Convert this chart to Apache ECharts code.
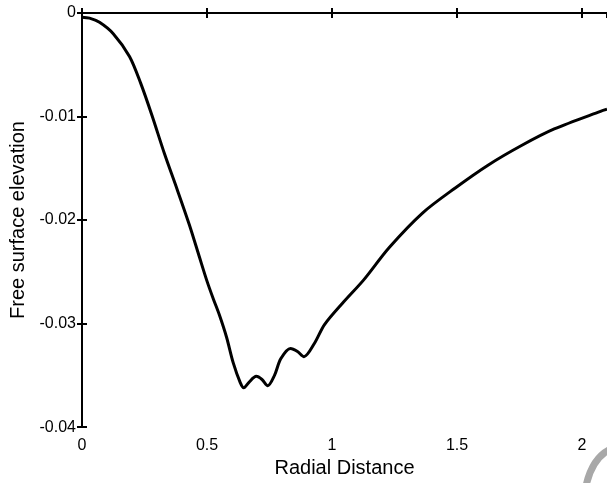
<!DOCTYPE html>
<html>
<head>
<meta charset="utf-8">
<script src="https://cdn.jsdelivr.net/npm/echarts@6/dist/echarts.min.js"></script>
<style>
html,body{margin:0;padding:0;background:#fff;}
#chart{width:607px;height:483px;}
</style>
</head>
<body>
<div id="chart"></div>
<script>
// Radial distance (x) and free surface elevation (y)
const radialDistance = [0, 0.03, 0.07, 0.125, 0.19, 0.235, 0.28, 0.33, 0.38, 0.43, 0.47, 0.50, 0.525, 0.55, 0.578, 0.605, 0.633, 0.647, 0.667, 0.697, 0.72, 0.743, 0.77, 0.795, 0.834, 0.862, 0.888, 0.93, 0.97, 1.047, 1.126, 1.229, 1.363, 1.493, 1.624, 1.758, 1.889, 2.074, 2.1];
const elevation = [-0.0004, -0.0005, -0.0009, -0.0020, -0.0042, -0.0068, -0.0099, -0.0136, -0.0170, -0.0205, -0.0236, -0.0259, -0.0276, -0.0292, -0.0313, -0.0338, -0.0357, -0.0362, -0.0357, -0.0351, -0.0354, -0.0360, -0.0350, -0.0334, -0.0324, -0.0327, -0.0332, -0.0319, -0.0301, -0.0279, -0.0258, -0.02265, -0.0193, -0.0169, -0.0147, -0.0128, -0.0112, -0.0095, -0.0093];
const xTicks = [0, 0.5, 1, 1.5, 2];
const yTicks = [-0.04, -0.03, -0.02, -0.01, 0];

const data = radialDistance.map((x, i) => [x, elevation[i]]);
const font = 'Liberation Sans, Arial, Helvetica, sans-serif';
const axisLine = {show: true, lineStyle: {color: '#000', width: 2}};
const tick = {show: true, inside: true, length: 5, lineStyle: {color: '#000', width: 2}};

const chart = echarts.init(document.getElementById('chart'), null, {renderer: 'canvas'});
chart.setOption({
  animation: false,
  backgroundColor: '#fff',
  grid: {left: 82, top: 13, right: -7, bottom: 51, containLabel: false},
  xAxis: [{
    type: 'value', min: xTicks[0], max: 2.1, interval: 0.5, position: 'bottom',
    axisLine: axisLine, axisTick: tick, splitLine: {show: false},
    axisLabel: {color: '#000', fontFamily: font, fontSize: 16, margin: 10, showMaxLabel: false,
      formatter: v => xTicks.includes(v) ? String(v) : ''},
    name: 'Radial Distance', nameLocation: 'middle', nameGap: 30,
    nameTextStyle: {color: '#000', fontFamily: font, fontSize: 20}
  }, {
    type: 'value', min: xTicks[0], max: 2.1, interval: 0.5, position: 'top',
    axisLine: axisLine, axisTick: tick, splitLine: {show: false},
    axisLabel: {show: false}
  }],
  yAxis: [{
    type: 'value', min: yTicks[0], max: yTicks[yTicks.length - 1], interval: 0.01, position: 'left',
    axisLine: axisLine, axisTick: tick, splitLine: {show: false},
    axisLabel: {color: '#000', fontFamily: font, fontSize: 16, margin: 6, padding: [6, 0, 0, 0],
      formatter: v => String(Math.round(v * 100) / 100)},
    name: 'Free surface elevation', nameLocation: 'middle', nameGap: 52, nameRotate: 90,
    nameTextStyle: {color: '#000', fontFamily: font, fontSize: 20}
  }, {
    type: 'value', min: yTicks[0], max: yTicks[yTicks.length - 1], interval: 0.01, position: 'right',
    axisLine: axisLine, axisTick: tick, splitLine: {show: false}, axisLabel: {show: false}
  }],
  series: [{
    type: 'line', xAxisIndex: 0, yAxisIndex: 0, data: data,
    showSymbol: false, smooth: 0.3,
    lineStyle: {color: '#000', width: 3}
  }],
  graphic: [{
    type: 'bezierCurve', silent: true,
    shape: {x1: 609, y1: 450, cpx1: 592, cpy1: 459, x2: 586, y2: 486},
    style: {stroke: '#a8a8a8', lineWidth: 7, fill: null}
  }]
});
</script>
</body>
</html>
